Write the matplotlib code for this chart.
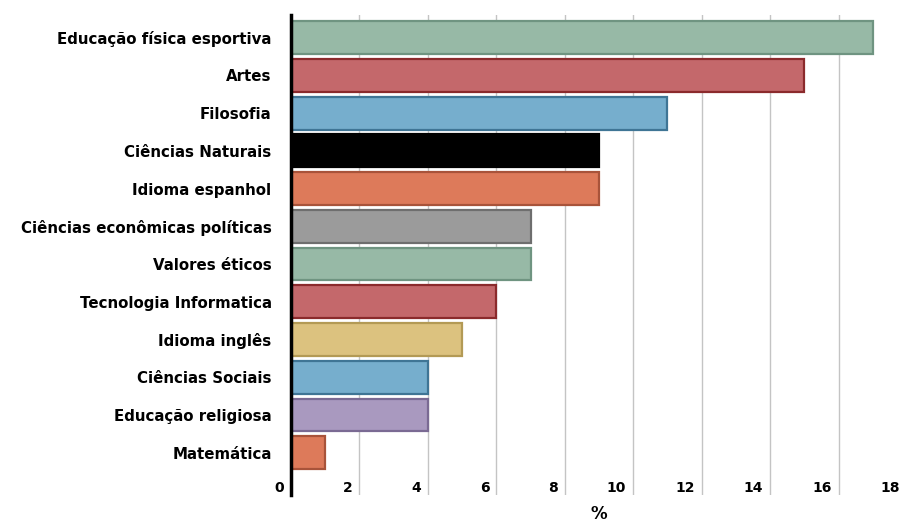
import matplotlib
matplotlib.use("Agg")
import matplotlib.pyplot as plt
from matplotlib.transforms import ScaledTranslation

categories = ["Educação física esportiva", "Artes", "Filosofia", "Ciências Naturais",
              "Idioma espanhol", "Ciências econômicas políticas", "Valores éticos",
              "Tecnologia Informatica", "Idioma inglês", "Ciências Sociais",
              "Educação religiosa", "Matemática"]
values = [17, 15, 11, 9, 9, 7, 7, 6, 5, 4, 4, 1]
colors = ["#97b9a6", "#c4686b", "#76aecd", "#000000", "#dd7a5a", "#9b9b9b",
          "#97b9a6", "#c4686b", "#dcc27f", "#76aecd", "#a999bf", "#dd7a5a"]
edges = ["#6f9481", "#8b2a2c", "#3f7595", "#000000", "#a8533a", "#6e6e6e",
         "#6f9481", "#8b2a2c", "#b39a55", "#3f7595", "#7a6a93", "#a8533a"]
xticks = [0, 2, 4, 6, 8, 10, 12, 14, 16, 18]

plt.rcParams['font.family'] = ['DejaVu Sans']

fig = plt.figure(figsize=(9.06, 5.25), dpi=100)
ax = fig.add_axes([291/906, 1 - 495/525, (907-291)/906, (495-15)/525])

n = len(categories)
ypos = list(range(n))
ax.barh(ypos, values, height=0.87, color=colors, edgecolor=edges,
        linewidth=1.6, zorder=3)
ax.set_xlim(0, 18)
ax.set_ylim(n - 1 + 0.5 + 0.62, -0.5 - 0.1)
ax.set_yticks(ypos)
ax.set_yticklabels(categories, fontsize=10.8, fontweight='bold')
ax.tick_params(axis='y', length=0, pad=14)

ax.set_xticks(xticks)
ax.set_xticklabels([str(t) for t in xticks], fontsize=10, fontweight='bold', ha='right')
ax.tick_params(axis='x', length=0, pad=0)
off = ScaledTranslation(-7/100, 14/100, fig.dpi_scale_trans)
for lab in ax.get_xticklabels():
    lab.set_transform(lab.get_transform() + off)

ax.grid(axis='x', color='#c4c4c4', linewidth=1, zorder=0)
ax.set_axisbelow(True)
for s in ['top', 'right', 'bottom']:
    ax.spines[s].set_visible(False)
ax.spines['left'].set_linewidth(2.5)
ax.spines['left'].set_color('black')
ax.spines['left'].set_zorder(5)

ax.set_xlabel('%', fontsize=12, fontweight='bold', labelpad=7)

fig.savefig('out.png', dpi=100)
